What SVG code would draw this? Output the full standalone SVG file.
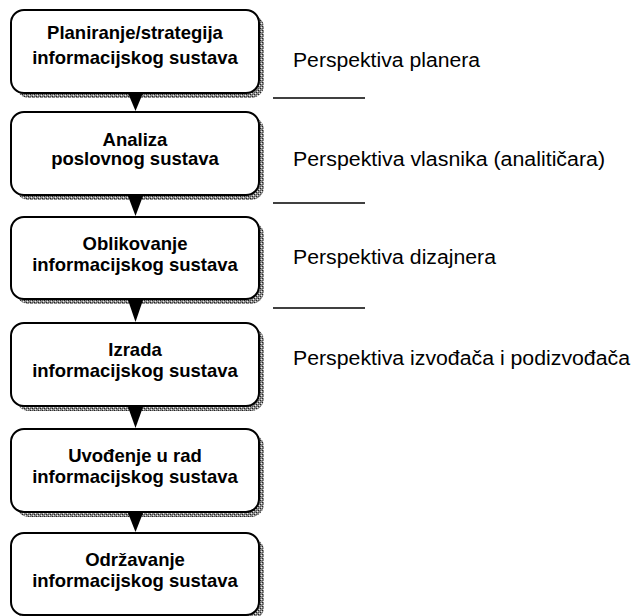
<svg xmlns="http://www.w3.org/2000/svg" width="634" height="616" viewBox="0 0 634 616">
<defs>
<pattern id="stip" width="4" height="4" patternUnits="userSpaceOnUse">
<rect width="4" height="4" fill="#8c8c8c"/>
<rect x="0" y="0" width="1" height="1" fill="#222"/>
<rect x="2" y="2" width="1" height="1" fill="#222"/>
<rect x="1" y="3" width="1" height="1" fill="#eee"/>
<rect x="3" y="1" width="1" height="1" fill="#eee"/>
<rect x="2" y="0" width="1" height="1" fill="#555"/>
<rect x="0" y="2" width="1" height="1" fill="#555"/>
</pattern>
</defs>
<style>
.sh{fill:url(#stip);}
.bx{fill:#fff;stroke:#000;stroke-width:2;}
.t{font-family:"Liberation Sans",Arial,sans-serif;font-weight:bold;font-size:18.5px;text-anchor:middle;fill:#000;}
.p{font-family:"Liberation Sans",Arial,sans-serif;font-size:20px;fill:#000;}
.ln{stroke:#000;stroke-width:1.6;}
.ar{fill:#000;}
</style>
<rect width="634" height="616" fill="#fff"/>

<g id="n1">
<rect class="sh" x="16" y="15" width="248" height="83" rx="13"/>
<rect class="bx" x="11" y="10" width="248" height="83" rx="13"/>
<text class="t" x="135" y="39">Planiranje/strategija</text>
<text class="t" x="135" y="64">informacijskog sustava</text>
</g>
<g id="n2">
<rect class="sh" x="16" y="117" width="248" height="83" rx="13"/>
<rect class="bx" x="11" y="112" width="248" height="83" rx="13"/>
<text class="t" x="135" y="146">Analiza</text>
<text class="t" x="135" y="165">poslovnog sustava</text>
</g>
<g id="n3">
<rect class="sh" x="16" y="222" width="248" height="82" rx="13"/>
<rect class="bx" x="11" y="217" width="248" height="82" rx="13"/>
<text class="t" x="135" y="250">Oblikovanje</text>
<text class="t" x="135" y="271">informacijskog sustava</text>
</g>
<g id="n4">
<rect class="sh" x="16" y="328" width="248" height="83" rx="13"/>
<rect class="bx" x="11" y="323" width="248" height="83" rx="13"/>
<text class="t" x="135" y="356">Izrada</text>
<text class="t" x="135" y="377">informacijskog sustava</text>
</g>
<g id="n5">
<rect class="sh" x="16" y="434" width="248" height="83" rx="13"/>
<rect class="bx" x="11" y="429" width="248" height="83" rx="13"/>
<text class="t" x="135" y="462">Uvođenje u rad</text>
<text class="t" x="135" y="483">informacijskog sustava</text>
</g>
<g id="n6">
<rect class="sh" x="16" y="538" width="248" height="82" rx="13"/>
<rect class="bx" x="11" y="533" width="248" height="82" rx="13"/>
<text class="t" x="135" y="566">Održavanje</text>
<text class="t" x="135" y="587">informacijskog sustava</text>
</g>

<g id="connectors">
<polygon class="ar" points="128,93 143,93 135.5,111"/>
<polygon class="ar" points="128,196 143,196 135.5,216"/>
<polygon class="ar" points="128,300 143,300 135.5,322"/>
<polygon class="ar" points="128,407 143,407 135.5,428"/>
<polygon class="ar" points="128,513 143,513 135.5,532"/>
</g>

<g id="labels">
<text class="p" x="293" y="67" textLength="187" lengthAdjust="spacingAndGlyphs">Perspektiva planera</text>
<text class="p" x="293" y="166" textLength="312" lengthAdjust="spacingAndGlyphs">Perspektiva vlasnika (analitičara)</text>
<text class="p" x="293" y="264" textLength="203" lengthAdjust="spacingAndGlyphs">Perspektiva dizajnera</text>
<text class="p" x="293" y="365" textLength="337" lengthAdjust="spacingAndGlyphs">Perspektiva izvođača i podizvođača</text>
<line class="ln" x1="273" y1="98" x2="365" y2="98"/>
<line class="ln" x1="273" y1="203" x2="365" y2="203"/>
<line class="ln" x1="273" y1="308" x2="365" y2="308"/>
</g>
</svg>
